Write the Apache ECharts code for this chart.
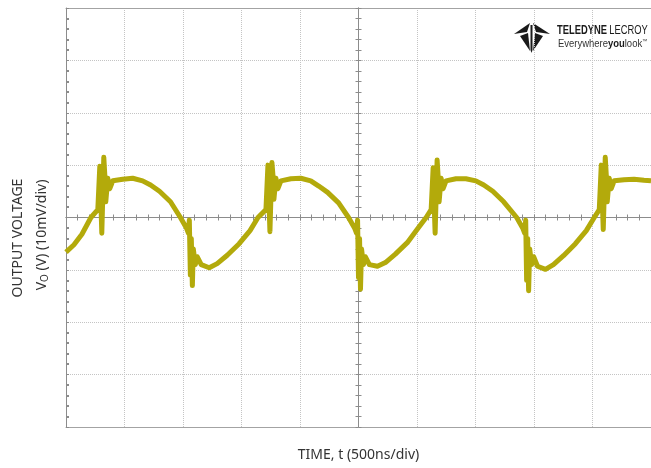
<!DOCTYPE html>
<html>
<head>
<meta charset="utf-8">
<script src="https://cdn.jsdelivr.net/npm/echarts@6/dist/echarts.min.js"></script>
<style>
  html, body { margin: 0; padding: 0; background: #fff; }
  #chartBox { width: 651px; height: 468px; }
</style>
</head>
<body>
<div id="chartBox"></div>
<script>
// time relative to screen centre, ns (500 ns/div, 10 div)
const timeNs = [
  -2500, -2432, -2364, -2287,
  -2228, -2211, -2202, -2194, -2177, -2168, -2160, -2143, -2126, -2100, -2015, -1930, -1845, -1777, -1701, -1607,
  -1522, -1471, -1454, -1446, -1437, -1429, -1420, -1412, -1395, -1378, -1344, -1276, -1208, -1122, -1020, -927, -859,
  -791, -774, -765, -757, -740, -731, -723, -706, -689, -663, -578, -493, -408, -340, -264, -170,
  -85, -34, -17, -8, 0, 9, 17, 26, 42, 59, 93, 162, 230, 315, 417, 510, 578,
  621, 638, 646, 655, 672, 680, 689, 706, 723, 748, 833, 918, 1003, 1071, 1148, 1241,
  1352, 1403, 1420, 1429, 1437, 1446, 1454, 1463, 1480, 1497, 1530, 1598, 1666, 1752, 1854, 1947, 2015,
  2058, 2075, 2084, 2092, 2109, 2118, 2126, 2143, 2160, 2185, 2270, 2355, 2440, 2500
];
// output voltage, mV (10 mV/div)
const voutMv = [
  -6.6, -5.2, -3.2, 0,
  1.5, 9.8, 3, -3, 11.5, 8, 3, 7.5, 5.5, 7, 7.3, 7.5, 7, 6.2, 5, 3,
  0, -2, -3, -0.5, -11, -4, -13, -6, -9, -7.5, -9, -9.6, -8.8, -7.2, -5, -2.5, 0,
  1.5, 10, 3, -2.7, 10.5, 8, 3.5, 7.5, 5.5, 7, 7.4, 7.5, 7, 6, 4.8, 2.8,
  0, -2, -3, -0.5, -11.5, -4, -13.7, -6, -9, -7.5, -9, -9.3, -8.6, -7, -4.8, -2, 0,
  1.5, 9.5, 3, -3, 11, 8, 3, 7.5, 5.5, 7, 7.4, 7.4, 7, 6.2, 5, 3,
  0, -2, -3, -0.5, -12, -4, -14, -6, -9, -7.5, -9.3, -9.9, -9, -7.3, -5, -2.5, 0,
  1.5, 10, 3, -2.3, 11.5, 8, 3, 7.5, 5.5, 7, 7.2, 7.3, 7.1, 7
];
const xRange = [-2500, 2500, 500];
const yRange = [-40, 40, 10];

const gridGray = '#c4c4c4';
const frameGray = '#a3a3a3';
const traceColor = '#b3aa0b';
const font = '"Noto Sans", Lato, sans-serif';
const logoFont = '"Liberation Sans", Arial, sans-serif';

let myChart = echarts.init(document.getElementById('chartBox'));

function baseX (extra) {
  return Object.assign({
    type: 'value', min: xRange[0], max: xRange[1], interval: xRange[2],
    axisLabel: { show: false }, splitLine: { show: false }, axisTick: { show: false }
  }, extra);
}
function baseY (extra) {
  return Object.assign({
    type: 'value', min: yRange[0], max: yRange[1], interval: yRange[2],
    axisLabel: { show: false }, splitLine: { show: false }, axisTick: { show: false }
  }, extra);
}
// centre crosshair with small graticule ticks on both sides
const centreTick = (inside) => ({
  axisLine: { onZero: true, onZeroAxisIndex: 0, lineStyle: { color: '#8c8c8c', width: 1 } },
  axisTick: { show: true, inside: inside, length: 3, lineStyle: { color: '#8c8c8c' } },
  minorTick: { show: true, splitNumber: 5, length: 3, lineStyle: { color: '#8c8c8c' } }
});

myChart.setOption({
  animation: false,
  grid: { left: 66, top: 8, width: 588, height: 419 },
  xAxis: [
    baseX({
      position: 'bottom',
      name: 'TIME, t (500ns/div)', nameLocation: 'middle', nameGap: 21,
      nameTextStyle: { color: '#333', fontSize: 14, fontFamily: font },
      axisLine: { onZero: false, lineStyle: { color: frameGray } },
      splitLine: { show: true, lineStyle: { color: gridGray, type: 'dotted' } }
    }),
    baseX({ position: 'top', axisLine: { onZero: false, lineStyle: { color: frameGray } } }),
    baseX(Object.assign({ position: 'bottom' }, centreTick(false))),
    baseX(Object.assign({ position: 'bottom' }, centreTick(true)))
  ],
  yAxis: [
    baseY({
      position: 'left',
      axisLine: { onZero: false, lineStyle: { color: '#8c8c8c' } },
      axisTick: { show: true, inside: true, length: 3, lineStyle: { color: '#8c8c8c' } },
      minorTick: { show: true, splitNumber: 5, length: 3, lineStyle: { color: '#8c8c8c', width: 2 } },
      splitLine: { show: true, lineStyle: { color: gridGray, type: 'dotted' } }
    }),
    baseY(Object.assign({ position: 'left' }, centreTick(false))),
    baseY(Object.assign({ position: 'left' }, centreTick(true)))
  ],
  series: [{
    type: 'line',
    xAxisIndex: 0,
    yAxisIndex: 0,
    showSymbol: false,
    sampling: false,
    lineStyle: { color: traceColor, width: 5, join: 'round' },
    data: timeNs.map((t, i) => [t, voutMv[i]])
  }],
  graphic: [
    // y axis title
    {
      type: 'text', x: 18, y: 238, rotation: Math.PI / 2,
      style: { text: 'OUTPUT VOLTAGE', fill: '#333', font: '14px ' + font, align: 'center', verticalAlign: 'middle' }
    },
    {
      type: 'text', x: 42, y: 235, rotation: Math.PI / 2,
      style: {
        text: '{n|V}{s|O}{n| (V) (10mV/div)}', align: 'center', verticalAlign: 'middle',
        rich: {
          n: { fontSize: 14, fontFamily: font, fill: '#333' },
          s: { fontSize: 10, fontFamily: font, fill: '#333', verticalAlign: 'bottom', padding: [6, 0, 0, 0] }
        }
      }
    },
    // logo mark
    { type: 'polygon', shape: { points: [[530, 23], [514, 34], [527, 32]] }, style: { fill: '#1a1a1a' } },
    { type: 'polygon', shape: { points: [[533, 23], [550, 34], [536, 32]] }, style: { fill: '#1a1a1a' } },
    { type: 'polygon', shape: { points: [[520, 36], [528, 33], [530, 51]] }, style: { fill: '#1a1a1a' } },
    { type: 'polygon', shape: { points: [[543, 36], [535, 33], [533, 51]] }, style: { fill: '#1a1a1a' } },
    { type: 'polygon', shape: { points: [[530.5, 25], [532.5, 25], [532.5, 50], [531.5, 53], [530.5, 50]] }, style: { fill: '#1a1a1a' } },
    {
      type: 'text', x: 557, y: 30, scaleX: 0.72,
      style: {
        text: '{b|TELEDYNE} {r|LECROY}', verticalAlign: 'middle',
        rich: {
          b: { fontSize: 13, fontWeight: 'bold', fontFamily: logoFont, fill: '#1a1a1a' },
          r: { fontSize: 13, fontFamily: logoFont, fill: '#1a1a1a' }
        }
      }
    },
    {
      type: 'text', x: 558, y: 44, scaleX: 0.86,
      style: {
        text: '{r|Everywhere}{b|you}{r|look}{t|™}', verticalAlign: 'middle',
        rich: {
          r: { fontSize: 11, fontFamily: logoFont, fill: '#333' },
          b: { fontSize: 11, fontWeight: 'bold', fontFamily: logoFont, fill: '#1a1a1a' },
          t: { fontSize: 6, fontFamily: logoFont, fill: '#333', verticalAlign: 'top' }
        }
      }
    }
  ]
});
</script>
</body>
</html>
